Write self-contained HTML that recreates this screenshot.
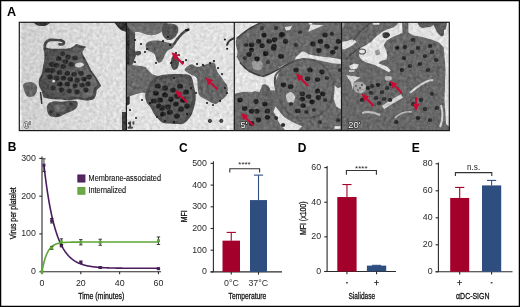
<!DOCTYPE html>
<html><head><meta charset="utf-8"><style>
html,body{margin:0;padding:0;background:#fff;width:520px;height:307px;overflow:hidden}
svg{display:block;will-change:transform;font-family:"Liberation Sans",sans-serif}
</style></head><body>
<svg width="520" height="307" viewBox="0 0 520 307">
<rect width="520" height="307" fill="#fff"/>
<defs>
<filter id="bl" x="0" y="0" width="100%" height="100%" color-interpolation-filters="sRGB"><feGaussianBlur in="SourceGraphic" stdDeviation="0.6" result="b"/><feTurbulence type="fractalNoise" baseFrequency="0.3" numOctaves="3" seed="5" result="t"/><feColorMatrix in="t" type="matrix" values="0.33 0.33 0.33 0 0  0.33 0.33 0.33 0 0  0.33 0.33 0.33 0 0  0 0 0 0 1" result="g"/><feComposite in="b" in2="g" operator="arithmetic" k1="0" k2="1" k3="0.42" k4="-0.21"/></filter>
<filter id="nz" x="0" y="0" width="100%" height="100%"><feTurbulence type="fractalNoise" baseFrequency="0.55" numOctaves="2" seed="7"/><feColorMatrix type="matrix" values="0 0 0 0 0  0 0 0 0 0  0 0 0 0 0  0 0 0 -1.6 1.05"/><feComposite in2="SourceGraphic" operator="in"/></filter>
<clipPath id="cp0"><rect x="19" y="22" width="107" height="109"/></clipPath>
<clipPath id="cp1"><rect x="126" y="22" width="108" height="109"/></clipPath>
<clipPath id="cp2"><rect x="234" y="22" width="107" height="109"/></clipPath>
<clipPath id="cp3"><rect x="341" y="22" width="109" height="109"/></clipPath>
<linearGradient id="g1bg" x1="0" y1="0" x2="1" y2="0"><stop offset="0" stop-color="#cfcfcf"/><stop offset="0.5" stop-color="#d8d8d8"/><stop offset="1" stop-color="#dedede"/></linearGradient>
<linearGradient id="g1cell" x1="0" y1="0" x2="1" y2="0"><stop offset="0" stop-color="#4e4e4e"/><stop offset="0.6" stop-color="#5e5e5e"/><stop offset="1" stop-color="#6e6e6e"/></linearGradient>
</defs>
<g clip-path="url(#cp0)"><g filter="url(#bl)">
<rect x="19" y="22" width="107" height="109" fill="url(#g1bg)"/>
<rect x="19" y="22" width="2.5" height="109" fill="#ececec"/>
<path d="M33.0,20.0 C35.5,19.2 48.5,19.2 51.0,20.0 C53.5,20.8 49.5,23.5 48.0,24.5 C46.5,25.5 44.0,26.0 42.0,26.0 C40.0,26.0 37.5,25.5 36.0,24.5 C34.5,23.5 30.5,20.8 33.0,20.0 Z" fill="#3a3a3a"/>
<path d="M114.0,20.0 C115.8,19.0 125.7,18.2 128.0,20.0 C130.3,21.8 129.0,29.2 128.0,31.0 C127.0,32.8 123.8,31.3 122.0,30.5 C120.2,29.7 118.3,27.8 117.0,26.0 C115.7,24.2 112.2,21.0 114.0,20.0 Z" fill="#333"/>
<polygon points="122.0,112.0 128.0,112.0 128.0,131.0 122.0,131.0" fill="#3e3e3e"/>
<path d="M44.3,47.5 C45.2,46.7 47.2,48.2 50.0,48.4 C52.8,48.6 58.1,48.8 61.3,48.8 C64.5,48.8 66.9,48.7 69.1,48.2 C71.3,47.7 73.1,46.6 74.3,45.9 C75.5,45.2 75.3,44.2 76.4,44.1 C77.5,44.0 79.2,45.0 80.8,45.4 C82.4,45.8 85.6,46.1 86.0,46.7 C86.4,47.4 84.0,48.2 83.4,49.3 C82.8,50.4 82.1,51.5 82.5,53.2 C82.9,55.0 85.0,57.8 86.0,59.8 C87.0,61.8 87.7,63.3 88.6,65.0 C89.5,66.7 90.1,68.5 91.2,70.2 C92.3,71.9 93.8,73.5 95.1,75.4 C96.4,77.4 98.0,80.1 99.0,81.9 C100.0,83.7 101.1,84.7 100.8,86.0 C100.5,87.3 97.8,88.2 97.0,89.7 C96.2,91.2 96.7,93.3 96.0,94.9 C95.3,96.5 94.7,98.6 93.0,99.5 C91.3,100.4 88.7,100.5 86.0,100.5 C83.3,100.5 79.7,99.3 76.9,99.3 C74.1,99.3 71.7,100.4 69.1,100.4 C66.5,100.5 63.9,99.8 61.3,99.6 C58.7,99.4 56.1,99.6 53.5,99.3 C50.9,99.0 47.4,98.5 45.6,98.0 C43.9,97.5 43.6,97.4 43.0,96.2 C42.4,95.0 42.4,92.7 41.7,91.0 C41.1,89.3 39.5,87.8 39.1,85.8 C38.7,83.8 38.7,81.2 39.1,79.3 C39.5,77.3 41.1,76.3 41.7,74.1 C42.4,71.9 42.6,68.7 43.0,66.3 C43.4,63.9 44.1,62.0 44.3,59.8 C44.5,57.6 44.3,55.2 44.3,53.2 C44.3,51.2 43.3,48.3 44.3,47.5 Z" fill="#4a4a4a"/>
<path d="M46.8,50.0 C47.6,49.3 49.4,50.6 51.9,50.8 C54.5,51.0 59.2,51.2 62.1,51.2 C65.0,51.2 67.2,51.1 69.1,50.7 C71.1,50.2 72.7,49.2 73.8,48.6 C74.9,48.0 74.7,47.0 75.7,47.0 C76.7,46.9 78.2,47.8 79.6,48.1 C81.1,48.5 83.9,48.7 84.3,49.3 C84.7,49.9 82.5,50.7 82.0,51.7 C81.5,52.6 80.8,53.6 81.2,55.2 C81.6,56.7 83.4,59.3 84.3,61.1 C85.2,62.9 85.9,64.2 86.7,65.8 C87.4,67.3 88.0,68.9 89.0,70.5 C90.0,72.0 91.3,73.4 92.5,75.1 C93.7,76.9 95.2,79.4 96.0,81.0 C96.9,82.6 97.9,83.5 97.6,84.7 C97.3,85.9 94.9,86.7 94.2,88.0 C93.5,89.3 93.9,91.2 93.3,92.7 C92.7,94.2 92.1,96.0 90.6,96.8 C89.1,97.7 86.7,97.8 84.3,97.7 C81.9,97.7 78.7,96.7 76.1,96.7 C73.6,96.6 71.4,97.6 69.1,97.6 C66.8,97.7 64.4,97.1 62.1,96.9 C59.7,96.8 57.4,96.9 55.1,96.7 C52.7,96.4 49.5,95.9 48.0,95.5 C46.4,95.0 46.2,94.9 45.6,93.9 C45.0,92.8 45.0,90.7 44.4,89.2 C43.9,87.6 42.5,86.3 42.1,84.5 C41.7,82.7 41.7,80.4 42.1,78.7 C42.5,76.9 43.9,75.9 44.4,74.0 C45.0,72.0 45.2,69.1 45.6,67.0 C46.0,64.8 46.6,63.1 46.8,61.1 C47.0,59.1 46.8,57.0 46.8,55.2 C46.8,53.3 45.9,50.8 46.8,50.0 Z" fill="url(#g1cell)"/>
<path d="M44.8,49 C44.2,43.5 46,40.8 50,39.9 L57,40 C61,40.3 64.2,41 63.9,42.9 C63.6,44.1 61.8,44.7 59.5,44.3" fill="none" stroke="#454545" stroke-width="2.7" stroke-linecap="round"/>
<path d="M75.5,63.8 C76.4,63.2 79.6,62.4 81.0,62.6 C82.4,62.8 84.3,64.2 84.0,65.0 C83.7,65.8 80.4,67.3 79.0,67.5 C77.6,67.7 76.1,66.9 75.5,66.3 C74.9,65.7 74.6,64.4 75.5,63.8 Z" fill="#cfcfcf"/>
<circle cx="53.7" cy="81.2" r="1.4" fill="#d8d8d8"/>
<g filter="url(#bl3)"><ellipse cx="62.5" cy="53.8" rx="2.7" ry="2.4" fill="#2c2c2c"/><ellipse cx="58.6" cy="58.7" rx="2.7" ry="2.4" fill="#2c2c2c"/><ellipse cx="65.4" cy="61.6" rx="2.7" ry="2.4" fill="#2c2c2c"/><ellipse cx="56.6" cy="65.5" rx="2.7" ry="2.4" fill="#2c2c2c"/><ellipse cx="63.5" cy="66.5" rx="2.7" ry="2.4" fill="#2c2c2c"/><ellipse cx="71.3" cy="64.5" rx="2.7" ry="2.4" fill="#2c2c2c"/><ellipse cx="52.7" cy="70.4" rx="2.7" ry="2.4" fill="#2c2c2c"/><ellipse cx="59.5" cy="72.4" rx="2.7" ry="2.4" fill="#2c2c2c"/><ellipse cx="67.4" cy="73.3" rx="2.7" ry="2.4" fill="#2c2c2c"/><ellipse cx="74.2" cy="74.3" rx="2.7" ry="2.4" fill="#2c2c2c"/><ellipse cx="81.0" cy="73.3" rx="2.7" ry="2.4" fill="#2c2c2c"/><ellipse cx="56.6" cy="78.2" rx="2.7" ry="2.4" fill="#2c2c2c"/><ellipse cx="63.5" cy="78.2" rx="2.7" ry="2.4" fill="#2c2c2c"/><ellipse cx="70.3" cy="79.2" rx="2.7" ry="2.4" fill="#2c2c2c"/><ellipse cx="77.1" cy="80.2" rx="2.7" ry="2.4" fill="#2c2c2c"/><ellipse cx="84.0" cy="79.2" rx="2.7" ry="2.4" fill="#2c2c2c"/><ellipse cx="59.5" cy="84.1" rx="2.7" ry="2.4" fill="#2c2c2c"/><ellipse cx="67.4" cy="84.1" rx="2.7" ry="2.4" fill="#2c2c2c"/><ellipse cx="75.2" cy="86.0" rx="2.7" ry="2.4" fill="#2c2c2c"/><ellipse cx="82.0" cy="85.1" rx="2.7" ry="2.4" fill="#2c2c2c"/><ellipse cx="69.3" cy="90.9" rx="2.7" ry="2.4" fill="#2c2c2c"/><ellipse cx="77.1" cy="91.9" rx="2.7" ry="2.4" fill="#2c2c2c"/><ellipse cx="61.5" cy="90.0" rx="2.7" ry="2.4" fill="#2c2c2c"/><ellipse cx="51.7" cy="64.5" rx="2.7" ry="2.4" fill="#2c2c2c"/><ellipse cx="47.8" cy="70.4" rx="2.7" ry="2.4" fill="#2c2c2c"/><ellipse cx="88.0" cy="84.0" rx="2.7" ry="2.4" fill="#2c2c2c"/><ellipse cx="86.0" cy="90.0" rx="2.7" ry="2.4" fill="#2c2c2c"/><ellipse cx="68.0" cy="57.0" rx="2.7" ry="2.4" fill="#2c2c2c"/><ellipse cx="75.0" cy="58.0" rx="2.7" ry="2.4" fill="#2c2c2c"/><ellipse cx="50.0" cy="77.0" rx="2.7" ry="2.4" fill="#2c2c2c"/><ellipse cx="53.0" cy="88.0" rx="2.7" ry="2.4" fill="#2c2c2c"/><ellipse cx="89.0" cy="77.0" rx="2.7" ry="2.4" fill="#2c2c2c"/></g>
<path d="M23.5,84.0 C24.5,82.7 27.9,81.9 30.0,82.0 C32.1,82.1 34.8,83.0 36.0,84.5 C37.2,86.0 37.5,89.0 37.0,91.0 C36.5,93.0 34.7,95.7 33.0,96.5 C31.3,97.3 28.5,97.1 27.0,96.0 C25.5,94.9 24.6,92.0 24.0,90.0 C23.4,88.0 22.5,85.3 23.5,84.0 Z" fill="#646464"/>
<path d="M40.5,92 L41.8,104" stroke="#3a3a3a" stroke-width="1.5"/>
<path d="M48.0,104.0 C49.2,102.5 51.7,101.7 54.0,101.3 C56.3,100.9 59.3,101.9 62.0,101.8 C64.7,101.7 67.5,100.8 70.0,100.8 C72.5,100.8 75.8,100.6 77.0,101.5 C78.2,102.4 78.0,104.6 77.5,106.0 C77.0,107.4 75.9,108.8 74.0,110.0 C72.1,111.2 68.7,112.3 66.0,113.5 C63.3,114.7 60.7,116.6 58.0,117.0 C55.3,117.4 51.8,117.2 50.0,116.0 C48.2,114.8 47.3,112.0 47.0,110.0 C46.7,108.0 46.8,105.5 48.0,104.0 Z" fill="#505050"/>
<path d="M54.0,106.0 C54.7,104.8 58.0,104.5 60.0,104.5 C62.0,104.5 65.5,104.9 66.0,106.0 C66.5,107.1 64.7,110.0 63.0,111.0 C61.3,112.0 57.5,112.8 56.0,112.0 C54.5,111.2 53.3,107.2 54.0,106.0 Z" fill="#6a6a6a"/>
<ellipse cx="51.0" cy="112.0" rx="1.8" ry="1.6" fill="#333"/><ellipse cx="71.0" cy="104.0" rx="1.8" ry="1.6" fill="#333"/><ellipse cx="58.0" cy="115.0" rx="1.8" ry="1.6" fill="#333"/>
</g>
<text x="23.7" y="127.6" font-size="9.4" fill="#fff" stroke="#111" stroke-width="0.9" paint-order="stroke" font-family="Liberation Sans">0'</text>
</g>
<g clip-path="url(#cp1)"><g filter="url(#bl)">
<rect x="126" y="22" width="108" height="109" fill="#e1e1e1"/>
<polygon points="126.0,22.0 134.0,22.0 135.0,35.0 135.0,50.0 134.0,62.0 129.6,70.0 129.5,104.0 126.0,106.0" fill="#565656"/>
<polygon points="126.0,22.0 129.5,22.0 129.5,104.0 126.0,106.0" fill="#333"/>
<path d="M129.0,20.0 C123.4,21.8 129.5,28.8 131.3,30.9 C133.1,32.9 137.2,31.6 140.0,32.3 C142.8,33.0 145.4,34.6 148.1,35.0 C150.8,35.4 154.1,34.9 156.3,34.4 C158.5,33.9 159.8,33.0 161.2,32.0 C162.5,31.0 163.7,30.5 164.4,28.5 C165.1,26.5 171.1,21.4 165.2,20.0 C159.3,18.6 134.7,18.2 129.0,20.0 Z" fill="#6e6e6e"/>
<path d="M162.8,25.3 C164.0,23.9 167.0,23.6 169.3,23.6 C171.6,23.6 175.1,24.2 176.6,25.3 C178.1,26.4 178.3,28.5 178.3,30.1 C178.3,31.7 177.6,33.5 176.6,35.0 C175.6,36.5 174.1,38.3 172.6,39.1 C171.1,39.9 169.2,40.3 167.7,39.9 C166.2,39.5 164.5,38.1 163.6,36.7 C162.7,35.4 162.1,33.7 162.0,31.8 C161.9,29.9 161.6,26.7 162.8,25.3 Z" fill="#555"/>
<path d="M188.5,29.5 C184,31 179,36 174,44" stroke="#4a4a4a" stroke-width="2.4" fill="none" stroke-linecap="round"/>
<path d="M146.5,43.2 C147.4,42.2 149.2,41.1 151.4,40.7 C153.6,40.3 156.9,40.4 159.5,40.7 C162.1,41.0 164.8,42.0 166.9,42.4 C169.0,42.8 170.6,42.8 171.8,43.2 C173.0,43.6 174.1,44.0 174.2,44.8 C174.3,45.6 173.7,47.1 172.6,48.1 C171.5,49.1 168.9,49.4 167.7,50.5 C166.5,51.6 166.1,52.8 165.2,54.6 C164.2,56.4 163.1,59.8 162.0,61.1 C160.9,62.5 159.6,63.0 158.7,62.7 C157.8,62.4 157.0,60.9 156.3,59.5 C155.6,58.1 155.5,55.8 154.7,54.6 C153.9,53.4 152.6,52.9 151.4,52.1 C150.2,51.3 148.2,50.7 147.3,49.7 C146.4,48.8 145.8,47.5 145.7,46.4 C145.6,45.3 145.6,44.2 146.5,43.2 Z" fill="#646464"/>
<path d="M172.0,57.0 C172.8,55.4 174.8,55.0 176.0,55.5 C177.2,56.0 178.7,58.1 179.0,60.0 C179.3,61.9 178.8,65.3 178.0,67.0 C177.2,68.7 175.2,70.3 174.0,70.0 C172.8,69.7 171.3,67.2 171.0,65.0 C170.7,62.8 171.2,58.6 172.0,57.0 Z" fill="#4e4e4e"/>
<path d="M129.3,51.0 C130.0,49.4 132.9,49.0 134.0,49.5 C135.1,50.0 136.0,52.3 136.0,54.0 C136.0,55.7 135.0,59.0 134.0,59.8 C133.0,60.6 130.8,60.5 130.0,59.0 C129.2,57.5 128.6,52.6 129.3,51.0 Z" fill="#4a4a4a"/>
<path d="M135.5,52.0 C136.0,51.2 139.1,50.7 140.0,51.0 C140.9,51.3 141.5,53.2 141.0,54.0 C140.5,54.8 137.9,55.8 137.0,55.5 C136.1,55.2 135.0,52.8 135.5,52.0 Z" fill="#4a4a4a"/>
<polygon points="126.0,64.0 135.8,65.4 142.3,66.3 145.5,67.0 148.8,71.1 152.8,74.4 158.5,76.0 160.0,80.0 150.0,88.0 145.5,93.2 142.5,92.5 136.5,94.0 132.0,95.5 127.5,97.0 126.0,97.0" fill="#6a6a6a"/>
<path d="M145.5,93.2 C145.1,95.3 145.2,96.9 145.5,98.5 C145.8,100.1 146.1,101.5 147.0,103.0 C147.9,104.5 149.6,105.8 150.7,107.5 C151.8,109.2 152.6,111.7 153.7,113.4 C154.8,115.2 156.0,116.5 157.4,118.0 C158.8,119.5 160.2,121.5 162.0,122.4 C163.8,123.3 165.7,123.2 168.0,123.5 C170.3,123.8 173.4,124.0 176.0,124.0 C178.6,124.0 181.1,124.8 183.5,123.5 C185.9,122.2 188.8,119.1 190.6,116.5 C192.3,113.9 193.1,110.9 194.0,107.7 C194.9,104.5 195.8,100.6 195.8,97.1 C195.8,93.6 194.9,90.1 194.0,86.6 C193.1,83.1 192.9,78.1 190.6,76.0 C188.3,73.9 184.1,74.3 180.0,74.0 C175.9,73.7 169.6,74.1 166.0,74.4 C162.4,74.7 160.7,75.1 158.5,76.0 C156.3,76.9 154.6,78.3 152.8,80.0 C151.1,81.7 149.2,83.8 148.0,86.0 C146.8,88.2 145.9,91.1 145.5,93.2 Z" fill="#4f4f4f"/>
<path d="M148.6,94.2 C148.3,96.0 148.4,97.3 148.6,98.7 C148.9,100.1 149.2,101.3 149.9,102.6 C150.7,103.9 152.2,105.0 153.1,106.5 C154.1,107.9 154.7,110.0 155.7,111.5 C156.7,113.0 157.7,114.2 158.9,115.5 C160.1,116.8 161.3,118.5 162.8,119.3 C164.4,120.1 166.0,120.0 168.0,120.2 C170.0,120.4 172.7,120.6 174.9,120.6 C177.1,120.6 179.2,121.3 181.3,120.2 C183.4,119.1 185.9,116.5 187.4,114.2 C188.9,111.9 189.6,109.4 190.4,106.6 C191.1,103.9 191.9,100.5 191.9,97.5 C191.9,94.5 191.1,91.5 190.4,88.5 C189.6,85.5 189.4,81.2 187.4,79.4 C185.4,77.6 181.8,77.9 178.3,77.6 C174.8,77.4 169.4,77.7 166.3,78.0 C163.2,78.3 161.7,78.6 159.8,79.4 C157.9,80.2 156.4,81.4 154.9,82.8 C153.4,84.2 151.8,86.1 150.8,88.0 C149.8,89.9 149.0,92.4 148.6,94.2 Z" fill="#5c5c5c"/>
<ellipse cx="160.0" cy="100.0" rx="2.9" ry="2.6" fill="#222"/><ellipse cx="165.0" cy="95.0" rx="2.9" ry="2.6" fill="#222"/><ellipse cx="171.0" cy="99.0" rx="2.9" ry="2.6" fill="#222"/><ellipse cx="176.0" cy="104.0" rx="2.9" ry="2.6" fill="#222"/><ellipse cx="168.0" cy="107.0" rx="2.9" ry="2.6" fill="#222"/><ellipse cx="162.0" cy="108.0" rx="2.9" ry="2.6" fill="#222"/><ellipse cx="177.0" cy="96.0" rx="2.9" ry="2.6" fill="#222"/><ellipse cx="183.0" cy="100.0" rx="2.9" ry="2.6" fill="#222"/><ellipse cx="156.0" cy="93.0" rx="2.9" ry="2.6" fill="#222"/><ellipse cx="170.0" cy="112.0" rx="2.9" ry="2.6" fill="#222"/><ellipse cx="181.0" cy="109.0" rx="2.9" ry="2.6" fill="#222"/><ellipse cx="165.0" cy="88.0" rx="2.9" ry="2.6" fill="#222"/><ellipse cx="173.0" cy="90.0" rx="2.9" ry="2.6" fill="#222"/><ellipse cx="159.0" cy="106.0" rx="2.9" ry="2.6" fill="#222"/><ellipse cx="186.0" cy="92.0" rx="2.9" ry="2.6" fill="#222"/><ellipse cx="154.0" cy="101.0" rx="2.9" ry="2.6" fill="#222"/><ellipse cx="163.0" cy="114.0" rx="2.9" ry="2.6" fill="#222"/><ellipse cx="177.0" cy="116.0" rx="2.9" ry="2.6" fill="#222"/><ellipse cx="187.0" cy="106.0" rx="2.9" ry="2.6" fill="#222"/><ellipse cx="180.0" cy="86.0" rx="2.9" ry="2.6" fill="#222"/><ellipse cx="158.0" cy="86.0" rx="2.9" ry="2.6" fill="#222"/>
<path d="M184.6,70.0 C184.2,68.7 186.6,67.0 187.9,66.0 C189.2,65.0 190.7,64.0 192.3,64.2 C193.9,64.4 195.2,66.9 197.6,66.9 C199.9,66.9 203.9,64.9 206.4,64.2 C208.9,63.5 211.0,62.5 212.5,62.5 C214.0,62.5 214.4,62.7 215.2,64.2 C215.9,65.7 216.1,69.3 217.0,71.3 C217.9,73.3 219.3,74.3 220.5,76.0 C221.7,77.7 222.8,79.5 224.0,81.3 C225.2,83.1 227.1,84.3 227.5,86.6 C227.9,88.9 227.8,93.0 226.6,95.3 C225.4,97.6 222.4,99.1 220.5,100.6 C218.6,102.1 217.5,104.2 215.2,104.1 C212.8,103.9 209.1,101.2 206.4,99.7 C203.8,98.2 200.8,97.5 199.3,95.3 C197.8,93.1 198.0,89.5 197.6,86.6 C197.2,83.7 198.0,80.1 196.7,78.0 C195.4,75.9 192.0,75.3 190.0,74.0 C188.0,72.7 184.9,71.3 184.6,70.0 Z" fill="#666"/>
<path d="M235,38 C231,39 228,41.5 227,45" stroke="#3e3e3e" stroke-width="2" fill="none" stroke-linecap="round"/>
<circle cx="135.0" cy="40.0" r="1.0" fill="#111"/><circle cx="141.0" cy="44.0" r="1.0" fill="#111"/><circle cx="147.0" cy="49.0" r="1.0" fill="#111"/><circle cx="163.0" cy="41.0" r="1.0" fill="#111"/><circle cx="170.0" cy="45.0" r="1.0" fill="#111"/><circle cx="171.0" cy="63.0" r="1.0" fill="#111"/><circle cx="174.0" cy="78.0" r="1.0" fill="#111"/><circle cx="183.0" cy="62.0" r="1.0" fill="#111"/><circle cx="186.0" cy="60.0" r="1.0" fill="#111"/><circle cx="197.0" cy="64.0" r="1.0" fill="#111"/><circle cx="214.0" cy="61.0" r="1.0" fill="#111"/><circle cx="218.0" cy="68.0" r="1.0" fill="#111"/><circle cx="222.0" cy="74.0" r="1.0" fill="#111"/><circle cx="207.0" cy="103.0" r="1.0" fill="#111"/><circle cx="213.0" cy="105.0" r="1.0" fill="#111"/><circle cx="220.0" cy="101.0" r="1.0" fill="#111"/><circle cx="196.0" cy="93.0" r="1.0" fill="#111"/><circle cx="191.0" cy="88.0" r="1.0" fill="#111"/><circle cx="150.0" cy="103.0" r="1.0" fill="#111"/><circle cx="157.0" cy="117.0" r="1.0" fill="#111"/><circle cx="165.0" cy="121.0" r="1.0" fill="#111"/><circle cx="174.0" cy="122.0" r="1.0" fill="#111"/><circle cx="187.0" cy="114.0" r="1.0" fill="#111"/><circle cx="186.0" cy="30.0" r="1.0" fill="#111"/><circle cx="188.0" cy="30.0" r="1.0" fill="#111"/><circle cx="224.9" cy="39.6" r="1.0" fill="#111"/><circle cx="227.1" cy="48.7" r="1.0" fill="#111"/><circle cx="135.0" cy="62.0" r="1.0" fill="#111"/><circle cx="142.0" cy="100.0" r="1.0" fill="#111"/><circle cx="130.0" cy="110.0" r="1.0" fill="#111"/><circle cx="136.0" cy="118.0" r="1.0" fill="#111"/><circle cx="145.0" cy="52.0" r="1.0" fill="#111"/><circle cx="156.0" cy="63.0" r="1.0" fill="#111"/><circle cx="176.0" cy="53.0" r="1.0" fill="#111"/><circle cx="179.0" cy="55.0" r="1.0" fill="#111"/><circle cx="168.0" cy="37.0" r="1.0" fill="#111"/><circle cx="203.0" cy="65.0" r="1.0" fill="#111"/><circle cx="210.0" cy="63.0" r="1.0" fill="#111"/><circle cx="225.0" cy="88.0" r="1.0" fill="#111"/><circle cx="227.0" cy="93.0" r="1.0" fill="#111"/>
<circle cx="209.9" cy="120.9" r="1.6" fill="#555" stroke="#222" stroke-width="0.8"/><circle cx="221.3" cy="120.9" r="1.6" fill="#555" stroke="#222" stroke-width="0.8"/><rect x="226.5" y="126" width="6.5" height="2.6" fill="#f4f4f4"/>
</g>
<line x1="183.3" y1="64.3" x2="176.6" y2="57.4" stroke="#c80a35" stroke-width="2.1"/><polygon points="171.5,52.2 179.0,55.1 174.2,59.8" fill="#c80a35"/>
<line x1="217.6" y1="89.6" x2="210.7" y2="82.7" stroke="#c80a35" stroke-width="2.1"/><polygon points="205.5,77.6 213.1,80.3 208.3,85.2" fill="#c80a35"/>
<line x1="187" y1="102.3" x2="180.3" y2="95.4" stroke="#c80a35" stroke-width="2.1"/><polygon points="175.2,90.2 182.7,93.1 177.9,97.8" fill="#c80a35"/>
<text x="127.4" y="127.8" font-size="9.4" fill="#555" stroke="#111" stroke-width="0.9" paint-order="stroke" font-family="Liberation Sans">1'</text>
</g>
<g clip-path="url(#cp2)"><g filter="url(#bl)">
<rect x="234" y="22" width="107" height="109" fill="#6a6a6a"/>
<path d="M233.0,21.0 C239.0,14.8 264.7,20.6 269.0,21.0 C273.3,21.4 261.5,22.4 258.6,23.5 C255.7,24.6 253.9,25.8 251.6,27.3 C249.3,28.8 246.6,31.1 244.6,32.6 C242.6,34.1 240.6,35.1 239.3,36.1 C238.0,37.1 237.2,37.0 236.6,38.5 C236.0,40.0 235.8,42.8 236.0,45.0 C236.2,47.2 237.5,49.8 237.5,52.0 C237.5,54.2 236.8,57.0 236.0,58.0 C235.2,59.0 233.5,64.2 233.0,58.0 C232.5,51.8 227.0,27.2 233.0,21.0 Z" fill="#e1e1e1"/>
<path d="M252.0,62.0 C252.7,60.5 256.2,59.7 258.0,60.0 C259.8,60.3 262.7,62.3 263.0,64.0 C263.3,65.7 261.5,69.2 260.0,70.0 C258.5,70.8 255.3,70.3 254.0,69.0 C252.7,67.7 251.3,63.5 252.0,62.0 Z" fill="#9a9a9a"/>
<polygon points="234.0,58.0 237.0,57.0 239.9,62.6 244.7,68.5 249.6,72.4 255.5,74.3 263.3,76.3 269.2,74.3 275.0,70.4 280.9,66.5 286.8,63.6 294.0,61.6 296.0,57.0 302.0,51.5 304.0,51.5 309.0,54.6 318.9,56.2 331.9,57.8 342.0,59.5 342.0,64.0 331.9,63.3 322.1,61.1 312.3,58.8 302.6,58.0 294.4,60.0 288.0,63.5 284.8,66.5 279.0,72.4 276.0,80.2 275.4,86.7 272.0,90.0 268.0,87.5 262.0,86.5 259.4,91.9 253.5,90.9 241.8,91.9 234.0,93.9" fill="#e1e1e1"/>
<polygon points="284.7,26.9 292.0,26.0 290.0,30.1 286.0,30.5" fill="#e1e1e1"/>
<polygon points="308.3,31.8 310.7,24.4 323.7,25.3" fill="#e1e1e1"/>
<polygon points="308.5,21.0 313.0,21.0 312.0,24.4 309.0,24.4" fill="#e1e1e1"/>
<polygon points="275.4,106.4 284.3,117.2 293.3,122.6 302.2,126.2 296.9,131.5 286.1,131.5 279.0,122.6 273.6,111.8" fill="#e1e1e1"/>
<polygon points="333.6,85.0 338.0,88.0 342.0,86.7 342.0,110.0 336.3,106.4 333.5,98.0" fill="#e1e1e1"/>
<polygon points="270.0,76.0 275.4,76.0 275.4,90.3 270.0,90.3" fill="#e1e1e1"/>
<path d="M275.4,76.0 C274.7,78.6 274.8,82.8 275.4,86.7 C276.0,90.6 277.5,95.7 279.0,99.3 C280.5,102.9 282.2,105.5 284.3,108.2 C286.4,110.9 288.8,113.8 291.5,115.4 C294.2,117.1 297.1,117.8 300.4,118.1 C303.7,118.4 307.6,118.0 311.2,117.2 C314.8,116.5 319.0,115.4 322.0,113.6 C325.0,111.8 327.3,109.4 329.1,106.4 C330.9,103.4 331.9,99.3 332.7,95.7 C333.4,92.1 333.9,88.3 333.6,85.0 C333.3,81.7 332.2,78.8 330.9,76.0 C329.6,73.2 328.1,70.3 326.0,68.0 C323.9,65.7 321.3,63.4 318.0,62.0 C314.7,60.6 309.9,59.7 306.0,59.5 C302.1,59.3 297.7,60.1 294.4,61.0 C291.1,61.9 288.5,63.3 286.0,65.0 C283.5,66.7 281.3,69.2 279.5,71.0 C277.7,72.8 276.1,73.4 275.4,76.0 Z" fill="none" stroke="#5a5a5a" stroke-width="2"/>
<path d="M239,82 C241,77 247,75 252,78 C258,82 258,88 254,91 C249,93 242,91 239,88" fill="none" stroke="#f2f2f2" stroke-width="0.8"/>
<path d="M262.0,86.0 C262.5,83.9 264.7,84.0 266.0,84.5 C267.3,85.0 268.8,86.6 270.0,89.0 C271.2,91.4 272.7,95.5 273.0,99.0 C273.3,102.5 273.0,108.5 272.0,110.0 C271.0,111.5 268.5,110.2 267.0,108.0 C265.5,105.8 263.8,100.7 263.0,97.0 C262.2,93.3 261.5,88.1 262.0,86.0 Z" fill="#606060"/>
<ellipse cx="251.6" cy="44.9" rx="2.7" ry="2.4" fill="#242424"/><ellipse cx="262.1" cy="45.7" rx="2.7" ry="2.4" fill="#242424"/><ellipse cx="251.6" cy="50.1" rx="2.7" ry="2.4" fill="#242424"/><ellipse cx="249.0" cy="54.5" rx="2.7" ry="2.4" fill="#242424"/><ellipse cx="265.7" cy="53.7" rx="2.7" ry="2.4" fill="#242424"/><ellipse cx="273.6" cy="48.4" rx="2.7" ry="2.4" fill="#242424"/><ellipse cx="274.5" cy="39.6" rx="2.7" ry="2.4" fill="#242424"/><ellipse cx="282.4" cy="34.3" rx="2.7" ry="2.4" fill="#242424"/><ellipse cx="280.6" cy="56.3" rx="2.7" ry="2.4" fill="#242424"/><ellipse cx="263.9" cy="35.2" rx="2.7" ry="2.4" fill="#242424"/><ellipse cx="269.2" cy="41.3" rx="2.7" ry="2.4" fill="#242424"/><ellipse cx="258.6" cy="41.3" rx="2.7" ry="2.4" fill="#242424"/><ellipse cx="257.0" cy="59.0" rx="2.7" ry="2.4" fill="#242424"/><ellipse cx="320.5" cy="41.5" rx="2.7" ry="2.4" fill="#242424"/><ellipse cx="327.0" cy="46.4" rx="2.7" ry="2.4" fill="#242424"/><ellipse cx="332.7" cy="52.1" rx="2.7" ry="2.4" fill="#242424"/><ellipse cx="318.9" cy="50.5" rx="2.7" ry="2.4" fill="#242424"/><ellipse cx="338.4" cy="41.5" rx="2.7" ry="2.4" fill="#242424"/><ellipse cx="281.4" cy="35.0" rx="2.7" ry="2.4" fill="#242424"/><ellipse cx="274.1" cy="46.4" rx="2.7" ry="2.4" fill="#242424"/><ellipse cx="281.4" cy="56.2" rx="2.7" ry="2.4" fill="#242424"/><ellipse cx="285.5" cy="41.5" rx="2.7" ry="2.4" fill="#242424"/><ellipse cx="313.0" cy="44.0" rx="2.7" ry="2.4" fill="#242424"/><ellipse cx="325.0" cy="35.0" rx="2.7" ry="2.4" fill="#242424"/><ellipse cx="283.4" cy="85.0" rx="2.7" ry="2.4" fill="#242424"/><ellipse cx="290.6" cy="86.7" rx="2.7" ry="2.4" fill="#242424"/><ellipse cx="302.2" cy="93.9" rx="2.7" ry="2.4" fill="#242424"/><ellipse cx="308.5" cy="96.6" rx="2.7" ry="2.4" fill="#242424"/><ellipse cx="317.5" cy="91.2" rx="2.7" ry="2.4" fill="#242424"/><ellipse cx="322.8" cy="93.9" rx="2.7" ry="2.4" fill="#242424"/><ellipse cx="318.4" cy="97.5" rx="2.7" ry="2.4" fill="#242424"/><ellipse cx="312.1" cy="102.0" rx="2.7" ry="2.4" fill="#242424"/><ellipse cx="303.1" cy="105.6" rx="2.7" ry="2.4" fill="#242424"/><ellipse cx="297.8" cy="110.9" rx="2.7" ry="2.4" fill="#242424"/><ellipse cx="307.6" cy="78.7" rx="2.7" ry="2.4" fill="#242424"/><ellipse cx="317.5" cy="79.6" rx="2.7" ry="2.4" fill="#242424"/><ellipse cx="302.2" cy="99.3" rx="2.7" ry="2.4" fill="#242424"/><ellipse cx="296.0" cy="70.0" rx="2.7" ry="2.4" fill="#242424"/><ellipse cx="310.0" cy="70.0" rx="2.7" ry="2.4" fill="#242424"/><ellipse cx="322.0" cy="72.0" rx="2.7" ry="2.4" fill="#242424"/><ellipse cx="256.0" cy="101.5" rx="2.7" ry="2.4" fill="#242424"/><ellipse cx="264.8" cy="104.1" rx="2.7" ry="2.4" fill="#242424"/><ellipse cx="267.4" cy="111.2" rx="2.7" ry="2.4" fill="#242424"/><ellipse cx="256.9" cy="111.2" rx="2.7" ry="2.4" fill="#242424"/><ellipse cx="251.6" cy="111.2" rx="2.7" ry="2.4" fill="#242424"/><ellipse cx="244.6" cy="108.5" rx="2.7" ry="2.4" fill="#242424"/><ellipse cx="267.4" cy="117.3" rx="2.7" ry="2.4" fill="#242424"/><ellipse cx="258.6" cy="120.0" rx="2.7" ry="2.4" fill="#242424"/><ellipse cx="251.6" cy="123.5" rx="2.7" ry="2.4" fill="#242424"/><ellipse cx="240.0" cy="100.0" rx="2.7" ry="2.4" fill="#242424"/>
<path d="M286.0,95.0 C286.5,93.3 289.5,91.7 291.0,92.0 C292.5,92.3 294.7,95.2 295.0,97.0 C295.3,98.8 294.2,102.2 293.0,103.0 C291.8,103.8 289.2,103.3 288.0,102.0 C286.8,100.7 285.5,96.7 286.0,95.0 Z" fill="#c8c8c8"/>
<ellipse cx="327.0" cy="78.0" rx="2.2" ry="2.0" fill="#333"/><ellipse cx="325.0" cy="100.0" rx="2.2" ry="2.0" fill="#333"/><ellipse cx="314.0" cy="110.0" rx="2.2" ry="2.0" fill="#333"/><ellipse cx="291.0" cy="104.0" rx="2.2" ry="2.0" fill="#333"/><ellipse cx="306.0" cy="112.0" rx="2.2" ry="2.0" fill="#333"/><ellipse cx="332.0" cy="34.0" rx="2.2" ry="2.0" fill="#333"/><ellipse cx="336.0" cy="48.0" rx="2.2" ry="2.0" fill="#333"/><ellipse cx="300.0" cy="32.0" rx="2.2" ry="2.0" fill="#333"/><ellipse cx="296.0" cy="45.0" rx="2.2" ry="2.0" fill="#333"/><ellipse cx="262.0" cy="28.0" rx="2.2" ry="2.0" fill="#333"/><ellipse cx="246.0" cy="45.0" rx="2.2" ry="2.0" fill="#333"/><ellipse cx="245.0" cy="58.0" rx="2.2" ry="2.0" fill="#333"/><ellipse cx="268.0" cy="62.0" rx="2.2" ry="2.0" fill="#333"/><ellipse cx="276.0" cy="28.0" rx="2.2" ry="2.0" fill="#333"/><ellipse cx="340.0" cy="70.0" rx="2.2" ry="2.0" fill="#333"/><ellipse cx="338.0" cy="120.0" rx="2.2" ry="2.0" fill="#333"/><ellipse cx="320.0" cy="122.0" rx="2.2" ry="2.0" fill="#333"/><ellipse cx="276.0" cy="118.0" rx="2.2" ry="2.0" fill="#333"/><ellipse cx="283.0" cy="125.0" rx="2.2" ry="2.0" fill="#333"/>
<path d="M236.6,38.5 C245,31 252,26 262,22.5" stroke="#444" stroke-width="1.5" fill="none"/>
<path d="M239.9,62.6 C246,70 254,75 263.3,76.3 C272,74 282,66 294,61.6" stroke="#444" stroke-width="1.5" fill="none"/>
<rect x="334.5" y="126.2" width="6" height="2.6" fill="#eee"/>
</g>
<line x1="308" y1="86" x2="301.0" y2="78.8" stroke="#c80a35" stroke-width="2.1"/><polygon points="295.9,73.6 303.4,76.5 298.6,81.2" fill="#c80a35"/>
<line x1="253" y1="125.3" x2="246.0" y2="118.1" stroke="#c80a35" stroke-width="2.1"/><polygon points="240.9,112.9 248.4,115.8 243.6,120.5" fill="#c80a35"/>
<text x="240.4" y="127.8" font-size="9.4" fill="#fff" stroke="#111" stroke-width="0.9" paint-order="stroke" font-family="Liberation Sans">5'</text>
</g>
<g clip-path="url(#cp3)"><g filter="url(#bl)">
<rect x="341" y="22" width="109" height="109" fill="#686868"/>
<polygon points="381.9,31.9 387.3,29.2 393.5,27.4 397.1,24.7 398.9,21.0 402.0,21.0 402.5,32.8 396.2,35.4 390.8,38.1 386.4,40.8 383.7,45.3 386.4,50.7 387.3,56.0 386.4,59.6 381.9,60.5 378.3,63.2 387.3,66.8 390.8,70.4 389.0,72.2 381.9,68.6 374.7,65.0 371.1,64.1 365.8,62.3 362.2,60.5 359.5,56.9 358.6,52.5 358.6,48.9 365.8,45.3 371.1,41.7 376.5,36.3" fill="#e1e1e1"/>
<polygon points="372.5,21.0 380.0,21.0 379.2,24.7 373.0,24.7" fill="#e1e1e1"/>
<path d="M383.0,33.0 C383.9,32.3 386.8,32.1 388.0,32.5 C389.2,32.9 390.3,34.5 390.0,35.5 C389.7,36.5 387.2,38.1 386.0,38.3 C384.8,38.5 383.3,37.4 382.8,36.5 C382.3,35.6 382.1,33.7 383.0,33.0 Z" fill="#3a3a3a"/>
<ellipse cx="362" cy="51.5" rx="3.5" ry="2.5" fill="none" stroke="#555" stroke-width="1.2"/>
<path d="M375.0,51.0 C375.5,50.2 378.2,49.5 379.0,50.0 C379.8,50.5 380.5,53.2 380.0,54.0 C379.5,54.8 376.8,55.5 376.0,55.0 C375.2,54.5 374.5,51.8 375.0,51.0 Z" fill="#9a9a9a"/>
<polygon points="408.3,21.0 408.3,32.6 413.6,35.6 422.4,37.0 431.2,39.5 438.2,42.0 443.5,47.0 446.0,57.0 447.0,71.0 450.0,71.0 450.0,21.0" fill="#e1e1e1"/>
<path d="M418.9,20.0 C421.3,18.9 431.4,19.1 433.8,20.0 C436.2,20.9 434.3,24.2 433.0,25.5 C431.7,26.8 428.2,27.4 426.0,27.6 C423.8,27.8 420.7,27.8 419.5,26.5 C418.3,25.2 416.5,21.1 418.9,20.0 Z" fill="#5e5e5e"/>
<path d="M433.0,20.0 C434.8,18.5 443.9,18.3 446.0,20.0 C448.1,21.7 446.1,27.3 445.5,30.0 C444.9,32.7 443.8,35.6 442.6,36.3 C441.4,37.0 439.7,35.2 438.5,34.0 C437.3,32.8 436.4,31.3 435.5,29.0 C434.6,26.7 431.2,21.5 433.0,20.0 Z" fill="#5a5a5a"/>
<polygon points="396.0,27.3 399.5,27.3 399.5,34.3 396.0,34.3" fill="#e1e1e1"/>
<polygon points="444.0,30.0 450.5,28.0 450.5,128.0 446.0,124.0 444.5,100.0 445.5,70.0 443.7,45.0" fill="#e1e1e1"/>
<polygon points="341.0,41.9 347.3,40.9 353.6,38.8 356.7,41.9 351.5,46.1 345.2,49.3 341.0,49.3" fill="#e1e1e1"/>
<polygon points="349.0,66.0 354.0,63.5 359.0,64.5 357.0,68.5 351.0,69.5" fill="#e1e1e1"/>
<polygon points="341.0,21.0 345.0,21.0 344.0,27.0 341.0,30.0" fill="#9a9a9a"/>
<path d="M353,40 C360,32 366,26 372,21" stroke="#505050" stroke-width="2" fill="none"/>
<path d="M345,60 C350,55 356,50 360,48" stroke="#505050" stroke-width="1.6" fill="none"/>
<polygon points="346.0,75.0 360.5,77.3 354.0,82.0 352.5,90.0 351.0,82.5" fill="#d0d0d0"/>
<polygon points="348.8,70.0 354.7,70.0 354.0,72.0 349.0,72.0" fill="#c8c8c8"/>
<path d="M383,107.4 C390,103 396,99 402,95.9" stroke="#d2d2d2" stroke-width="4" fill="none"/>
<path d="M410,92.8 C418,86 426,80 433,80" stroke="#cfcfcf" stroke-width="2.2" fill="none"/>
<path d="M441,105 C443,112 443,120 440,127" stroke="#cfcfcf" stroke-width="2" fill="none"/>
<path d="M362,113 C368,111 374,112 380,115" stroke="#bdbdbd" stroke-width="2" fill="none"/>
<path d="M395,118 C400,113 405,111 412,112" stroke="#bdbdbd" stroke-width="1.6" fill="none"/>
<path d="M354.0,83.0 C355.2,82.0 359.0,81.5 361.0,82.0 C363.0,82.5 365.5,84.3 366.0,86.0 C366.5,87.7 365.5,90.8 364.0,92.0 C362.5,93.2 358.7,93.7 357.0,93.0 C355.3,92.3 354.1,89.7 353.6,88.0 C353.1,86.3 352.8,84.0 354.0,83.0 Z" fill="#a8a8a8"/>
<path d="M385.0,76.5 C385.8,75.8 389.9,75.9 391.0,76.5 C392.1,77.1 392.1,79.3 391.3,80.0 C390.5,80.7 387.1,81.1 386.0,80.5 C384.9,79.9 384.2,77.2 385.0,76.5 Z" fill="#b5b5b5"/>
<g filter="url(#bl3)"><ellipse cx="405.0" cy="47.0" rx="2.3" ry="2.1" fill="#2c2c2c"/><ellipse cx="412.0" cy="52.0" rx="2.3" ry="2.1" fill="#2c2c2c"/><ellipse cx="404.0" cy="58.0" rx="2.3" ry="2.1" fill="#2c2c2c"/><ellipse cx="418.0" cy="48.0" rx="2.3" ry="2.1" fill="#2c2c2c"/><ellipse cx="425.0" cy="56.0" rx="2.3" ry="2.1" fill="#2c2c2c"/><ellipse cx="430.0" cy="46.0" rx="2.3" ry="2.1" fill="#2c2c2c"/><ellipse cx="436.0" cy="60.0" rx="2.3" ry="2.1" fill="#2c2c2c"/><ellipse cx="420.0" cy="64.0" rx="2.3" ry="2.1" fill="#2c2c2c"/><ellipse cx="410.0" cy="66.0" rx="2.3" ry="2.1" fill="#2c2c2c"/><ellipse cx="428.0" cy="70.0" rx="2.3" ry="2.1" fill="#2c2c2c"/><ellipse cx="402.0" cy="70.0" rx="2.3" ry="2.1" fill="#2c2c2c"/><ellipse cx="397.0" cy="48.0" rx="2.3" ry="2.1" fill="#2c2c2c"/><ellipse cx="413.0" cy="40.0" rx="2.3" ry="2.1" fill="#2c2c2c"/><ellipse cx="432.0" cy="52.0" rx="2.3" ry="2.1" fill="#2c2c2c"/><ellipse cx="372.0" cy="86.0" rx="2.3" ry="2.1" fill="#2c2c2c"/><ellipse cx="378.0" cy="85.0" rx="2.3" ry="2.1" fill="#2c2c2c"/><ellipse cx="382.0" cy="92.0" rx="2.3" ry="2.1" fill="#2c2c2c"/><ellipse cx="387.0" cy="88.0" rx="2.3" ry="2.1" fill="#2c2c2c"/><ellipse cx="391.0" cy="84.0" rx="2.3" ry="2.1" fill="#2c2c2c"/><ellipse cx="384.0" cy="99.0" rx="2.3" ry="2.1" fill="#2c2c2c"/><ellipse cx="376.0" cy="98.0" rx="2.3" ry="2.1" fill="#2c2c2c"/><ellipse cx="390.0" cy="100.0" rx="2.3" ry="2.1" fill="#2c2c2c"/><ellipse cx="371.0" cy="93.0" rx="2.3" ry="2.1" fill="#2c2c2c"/><ellipse cx="368.0" cy="88.0" rx="2.3" ry="2.1" fill="#2c2c2c"/><ellipse cx="379.0" cy="103.0" rx="2.3" ry="2.1" fill="#2c2c2c"/><ellipse cx="421.0" cy="100.0" rx="2.3" ry="2.1" fill="#2c2c2c"/><ellipse cx="432.0" cy="94.0" rx="2.3" ry="2.1" fill="#2c2c2c"/><ellipse cx="425.0" cy="109.0" rx="2.3" ry="2.1" fill="#2c2c2c"/><ellipse cx="413.0" cy="104.0" rx="2.3" ry="2.1" fill="#2c2c2c"/><ellipse cx="437.0" cy="108.0" rx="2.3" ry="2.1" fill="#2c2c2c"/><ellipse cx="418.0" cy="118.0" rx="2.3" ry="2.1" fill="#2c2c2c"/><ellipse cx="430.0" cy="120.0" rx="2.3" ry="2.1" fill="#2c2c2c"/><ellipse cx="396.0" cy="122.0" rx="2.3" ry="2.1" fill="#2c2c2c"/><ellipse cx="362.0" cy="100.0" rx="2.3" ry="2.1" fill="#2c2c2c"/></g>
<ellipse cx="356.0" cy="86.0" rx="0.9" ry="0.8" fill="#333"/><ellipse cx="360.0" cy="88.0" rx="0.9" ry="0.8" fill="#333"/><ellipse cx="358.0" cy="90.0" rx="0.9" ry="0.8" fill="#333"/><ellipse cx="362.0" cy="85.0" rx="0.9" ry="0.8" fill="#333"/>
</g>
<line x1="401.6" y1="93" x2="395.0" y2="86.1" stroke="#c80a35" stroke-width="2.1"/><polygon points="389.9,80.9 397.4,83.8 392.5,88.5" fill="#c80a35"/>
<line x1="373.6" y1="106" x2="366.6" y2="98.8" stroke="#c80a35" stroke-width="2.1"/><polygon points="361.5,93.6 369.0,96.5 364.2,101.2" fill="#c80a35"/>
<line x1="416.1" y1="97.1" x2="416.1" y2="103.8" stroke="#c80a35" stroke-width="2.1"/><polygon points="416.1,111.1 412.7,103.8 419.5,103.8" fill="#c80a35"/>
<text x="348.3" y="127.6" font-size="9.4" fill="#fff" stroke="#111" stroke-width="0.9" paint-order="stroke" font-family="Liberation Sans">20'</text>
</g>
<g stroke="#1a1a1a" stroke-width="1.2" fill="none"><rect x="19.3" y="22.3" width="430" height="108.3"/><line x1="126.4" y1="22" x2="126.4" y2="131"/><line x1="234.3" y1="22" x2="234.3" y2="131"/><line x1="341.5" y1="22" x2="341.5" y2="131"/></g>
<text x="11.6" y="15.6" font-size="12.6" font-weight="bold" text-anchor="middle" fill="#000">A</text>
<text x="12.0" y="151.2" font-size="12" font-weight="bold" text-anchor="middle" fill="#000">B</text>
<text x="183.3" y="151.8" font-size="12" font-weight="bold" text-anchor="middle" fill="#000">C</text>
<text x="302.2" y="151.7" font-size="12" font-weight="bold" text-anchor="middle" fill="#000">D</text>
<text x="415.8" y="151.7" font-size="12" font-weight="bold" text-anchor="middle" fill="#000">E</text>
<g stroke="#2b2b2b" stroke-width="1.1" fill="none">
<line x1="42.0" y1="156.5015" x2="42.0" y2="271.7"/>
<line x1="39.3" y1="271.7" x2="161" y2="271.7"/>
<line x1="39.3" y1="233.93" x2="42.0" y2="233.93"/>
<line x1="39.3" y1="196.16" x2="42.0" y2="196.16"/>
<line x1="39.3" y1="158.39" x2="42.0" y2="158.39"/>
<line x1="42.00" y1="271.7" x2="42.00" y2="274.2"/>
<line x1="80.82" y1="271.7" x2="80.82" y2="274.2"/>
<line x1="119.64" y1="271.7" x2="119.64" y2="274.2"/>
<line x1="158.46" y1="271.7" x2="158.46" y2="274.2"/>
</g>
<text x="35.9" y="274.09999999999997" font-size="8.8" font-weight="normal" text-anchor="end" fill="#2a2a2a">0</text>
<text x="35.9" y="236.33" font-size="8.8" font-weight="normal" text-anchor="end" fill="#2a2a2a">100</text>
<text x="35.9" y="198.56" font-size="8.8" font-weight="normal" text-anchor="end" fill="#2a2a2a">200</text>
<text x="35.9" y="160.79" font-size="8.8" font-weight="normal" text-anchor="end" fill="#2a2a2a">300</text>
<text x="42.0" y="285.6" font-size="8.8" font-weight="normal" text-anchor="middle" fill="#1e1e1e">0</text>
<text x="80.82" y="285.6" font-size="8.8" font-weight="normal" text-anchor="middle" fill="#1e1e1e">20</text>
<text x="119.64" y="285.6" font-size="8.8" font-weight="normal" text-anchor="middle" fill="#1e1e1e">40</text>
<text x="158.46" y="285.6" font-size="8.8" font-weight="normal" text-anchor="middle" fill="#1e1e1e">60</text>
<text x="101.25" y="298.9" font-size="9.5" font-weight="normal" text-anchor="middle" fill="#111" textLength="46.2" lengthAdjust="spacingAndGlyphs" stroke="#111" stroke-width="0.3">Time (minutes)</text>
<text transform="translate(15.7,213.3) rotate(-90)" x="0" y="0" font-size="9.5" font-weight="normal" text-anchor="middle" fill="#111" textLength="52" lengthAdjust="spacingAndGlyphs" stroke="#111" stroke-width="0.3">Virus per platelet</text>
<path d="M43.94,165.21 L44.43,169.41 L44.91,173.44 L45.40,177.31 L45.88,181.02 L46.37,184.58 L46.85,187.99 L47.34,191.27 L47.82,194.41 L48.31,197.42 L48.79,200.31 L49.28,203.08 L49.76,205.74 L50.25,208.29 L50.73,210.74 L51.22,213.08 L51.70,215.34 L52.19,217.49 L52.68,219.57 L53.16,221.55 L53.65,223.46 L54.13,225.29 L54.62,227.04 L55.10,228.72 L55.59,230.34 L56.07,231.88 L56.56,233.37 L57.04,234.79 L57.53,236.16 L58.01,237.47 L58.50,238.73 L58.98,239.93 L59.47,241.09 L59.95,242.20 L60.44,243.26 L60.92,244.28 L61.41,245.26 L61.90,246.20 L62.38,247.10 L62.87,247.97 L63.35,248.80 L63.84,249.59 L64.32,250.35 L64.81,251.09 L65.29,251.79 L65.78,252.46 L66.26,253.11 L66.75,253.73 L67.23,254.32 L67.72,254.89 L68.20,255.44 L68.69,255.96 L69.17,256.46 L69.66,256.95 L70.14,257.41 L70.63,257.85 L71.12,258.28 L71.60,258.69 L72.09,259.08 L72.57,259.46 L73.06,259.82 L73.54,260.16 L74.03,260.49 L74.51,260.81 L75.00,261.12 L75.48,261.41 L75.97,261.69 L76.45,261.96 L76.94,262.22 L77.42,262.47 L77.91,262.71 L78.39,262.93 L78.88,263.15 L79.36,263.36 L79.85,263.56 L80.33,263.76 L80.82,263.94 L81.31,264.12 L81.79,264.29 L82.28,264.45 L82.76,264.61 L83.25,264.76 L83.73,264.91 L84.22,265.04 L84.70,265.18 L85.19,265.30 L85.67,265.43 L86.16,265.54 L86.64,265.66 L87.13,265.76 L87.61,265.87 L88.10,265.97 L88.58,266.06 L89.07,266.15 L89.55,266.24 L90.04,266.32 L90.53,266.40 L91.01,266.48 L91.50,266.56 L91.98,266.63 L92.47,266.70 L92.95,266.76 L93.44,266.82 L93.92,266.88 L94.41,266.94 L94.89,267.00 L95.38,267.05 L95.86,267.10 L96.35,267.15 L96.83,267.20 L97.32,267.24 L97.80,267.29 L98.29,267.33 L98.77,267.37 L99.26,267.40 L99.74,267.44 L100.23,267.48 L100.72,267.51 L101.20,267.54 L101.69,267.57 L102.17,267.60 L102.66,267.63 L103.14,267.66 L103.63,267.68 L104.11,267.71 L104.60,267.73 L105.08,267.76 L105.57,267.78 L106.05,267.80 L106.54,267.82 L107.02,267.84 L107.51,267.86 L107.99,267.88 L108.48,267.89 L108.96,267.91 L109.45,267.93 L109.94,267.94 L110.42,267.96 L110.91,267.97 L111.39,267.98 L111.88,268.00 L112.36,268.01 L112.85,268.02 L113.33,268.03 L113.82,268.04 L114.30,268.05 L114.79,268.06 L115.27,268.07 L115.76,268.08 L116.24,268.09 L116.73,268.10 L117.21,268.11 L117.70,268.12 L118.18,268.12 L118.67,268.13 L119.15,268.14 L119.64,268.14 L120.13,268.15 L120.61,268.16 L121.10,268.16 L121.58,268.17 L122.07,268.17 L122.55,268.18 L123.04,268.18 L123.52,268.19 L124.01,268.19 L124.49,268.20 L124.98,268.20 L125.46,268.21 L125.95,268.21 L126.43,268.21 L126.92,268.22 L127.40,268.22 L127.89,268.22 L128.37,268.23 L128.86,268.23 L129.34,268.23 L129.83,268.24 L130.32,268.24 L130.80,268.24 L131.29,268.24 L131.77,268.25 L132.26,268.25 L132.74,268.25 L133.23,268.25 L133.71,268.25 L134.20,268.26 L134.68,268.26 L135.17,268.26 L135.65,268.26 L136.14,268.26 L136.62,268.26 L137.11,268.27 L137.59,268.27 L138.08,268.27 L138.56,268.27 L139.05,268.27 L139.54,268.27 L140.02,268.27 L140.51,268.27 L140.99,268.28 L141.48,268.28 L141.96,268.28 L142.45,268.28 L142.93,268.28 L143.42,268.28 L143.90,268.28 L144.39,268.28 L144.87,268.28 L145.36,268.28 L145.84,268.28 L146.33,268.28 L146.81,268.29 L147.30,268.29 L147.78,268.29 L148.27,268.29 L148.75,268.29 L149.24,268.29 L149.73,268.29 L150.21,268.29 L150.70,268.29 L151.18,268.29 L151.67,268.29 L152.15,268.29 L152.64,268.29 L153.12,268.29 L153.61,268.29 L154.09,268.29 L154.58,268.29 L155.06,268.29 L155.55,268.29 L156.03,268.29 L156.52,268.29 L157.00,268.29 L157.49,268.29 L157.97,268.29 L158.46,268.30" stroke="#4a1d5e" stroke-width="1.6" fill="none"/>
<path d="M42.00,271.70 L42.49,269.08 L42.97,266.69 L43.46,264.52 L43.94,262.53 L44.43,260.72 L44.91,259.07 L45.40,257.57 L45.88,256.20 L46.37,254.95 L46.85,253.81 L47.34,252.77 L47.82,251.82 L48.31,250.96 L48.79,250.17 L49.28,249.45 L49.76,248.80 L50.25,248.20 L50.73,247.66 L51.22,247.16 L51.70,246.71 L52.19,246.30 L52.68,245.93 L53.16,245.58 L53.65,245.27 L54.13,244.99 L54.62,244.73 L55.10,244.49 L55.59,244.27 L56.07,244.08 L56.56,243.90 L57.04,243.74 L57.53,243.59 L58.01,243.45 L58.50,243.33 L58.98,243.21 L59.47,243.11 L59.95,243.02 L60.44,242.93 L60.92,242.85 L61.41,242.78 L61.90,242.72 L62.38,242.66 L62.87,242.61 L63.35,242.56 L63.84,242.51 L64.32,242.47 L64.81,242.43 L65.29,242.40 L65.78,242.37 L66.26,242.34 L66.75,242.32 L67.23,242.29 L67.72,242.27 L68.20,242.25 L68.69,242.23 L69.17,242.22 L69.66,242.20 L70.14,242.19 L70.63,242.18 L71.12,242.17 L71.60,242.16 L72.09,242.15 L72.57,242.14 L73.06,242.13 L73.54,242.12 L74.03,242.12 L74.51,242.11 L75.00,242.11 L75.48,242.10 L75.97,242.10 L76.45,242.09 L76.94,242.09 L77.42,242.09 L77.91,242.08 L78.39,242.08 L78.88,242.08 L79.36,242.07 L79.85,242.07 L80.33,242.07 L80.82,242.07 L81.31,242.07 L81.79,242.07 L82.28,242.06 L82.76,242.06 L83.25,242.06 L83.73,242.06 L84.22,242.06 L84.70,242.06 L85.19,242.06 L85.67,242.06 L86.16,242.06 L86.64,242.06 L87.13,242.06 L87.61,242.06 L88.10,242.06 L88.58,242.05 L89.07,242.05 L89.55,242.05 L90.04,242.05 L90.53,242.05 L91.01,242.05 L91.50,242.05 L91.98,242.05 L92.47,242.05 L92.95,242.05 L93.44,242.05 L93.92,242.05 L94.41,242.05 L94.89,242.05 L95.38,242.05 L95.86,242.05 L96.35,242.05 L96.83,242.05 L97.32,242.05 L97.80,242.05 L98.29,242.05 L98.77,242.05 L99.26,242.05 L99.74,242.05 L100.23,242.05 L100.72,242.05 L101.20,242.05 L101.69,242.05 L102.17,242.05 L102.66,242.05 L103.14,242.05 L103.63,242.05 L104.11,242.05 L104.60,242.05 L105.08,242.05 L105.57,242.05 L106.05,242.05 L106.54,242.05 L107.02,242.05 L107.51,242.05 L107.99,242.05 L108.48,242.05 L108.96,242.05 L109.45,242.05 L109.94,242.05 L110.42,242.05 L110.91,242.05 L111.39,242.05 L111.88,242.05 L112.36,242.05 L112.85,242.05 L113.33,242.05 L113.82,242.05 L114.30,242.05 L114.79,242.05 L115.27,242.05 L115.76,242.05 L116.24,242.05 L116.73,242.05 L117.21,242.05 L117.70,242.05 L118.18,242.05 L118.67,242.05 L119.15,242.05 L119.64,242.05 L120.13,242.05 L120.61,242.05 L121.10,242.05 L121.58,242.05 L122.07,242.05 L122.55,242.05 L123.04,242.05 L123.52,242.05 L124.01,242.05 L124.49,242.05 L124.98,242.05 L125.46,242.05 L125.95,242.05 L126.43,242.05 L126.92,242.05 L127.40,242.05 L127.89,242.05 L128.37,242.05 L128.86,242.05 L129.34,242.05 L129.83,242.05 L130.32,242.05 L130.80,242.05 L131.29,242.05 L131.77,242.05 L132.26,242.05 L132.74,242.05 L133.23,242.05 L133.71,242.05 L134.20,242.05 L134.68,242.05 L135.17,242.05 L135.65,242.05 L136.14,242.05 L136.62,242.05 L137.11,242.05 L137.59,242.05 L138.08,242.05 L138.56,242.05 L139.05,242.05 L139.54,242.05 L140.02,242.05 L140.51,242.05 L140.99,242.05 L141.48,242.05 L141.96,242.05 L142.45,242.05 L142.93,242.05 L143.42,242.05 L143.90,242.05 L144.39,242.05 L144.87,242.05 L145.36,242.05 L145.84,242.05 L146.33,242.05 L146.81,242.05 L147.30,242.05 L147.78,242.05 L148.27,242.05 L148.75,242.05 L149.24,242.05 L149.73,242.05 L150.21,242.05 L150.70,242.05 L151.18,242.05 L151.67,242.05 L152.15,242.05 L152.64,242.05 L153.12,242.05 L153.61,242.05 L154.09,242.05 L154.58,242.05 L155.06,242.05 L155.55,242.05 L156.03,242.05 L156.52,242.05 L157.00,242.05 L157.49,242.05 L157.97,242.05 L158.46,242.05" stroke="#5fa638" stroke-width="1.6" fill="none"/>
<g stroke="#222" stroke-width="0.9"><line x1="43.94" y1="158.77" x2="43.94" y2="171.61"/><line x1="42.24" y1="158.77" x2="45.64" y2="158.77"/><line x1="42.24" y1="171.61" x2="45.64" y2="171.61"/></g>
<rect x="42.44" y="163.69" width="3" height="3" fill="#4a1d5e"/>
<g stroke="#222" stroke-width="0.9"><line x1="51.70" y1="218.44" x2="51.70" y2="222.98"/><line x1="50.00" y1="218.44" x2="53.41" y2="218.44"/><line x1="50.00" y1="222.98" x2="53.41" y2="222.98"/></g>
<rect x="50.20" y="219.21" width="3" height="3" fill="#4a1d5e"/>
<g stroke="#222" stroke-width="0.9"><line x1="61.41" y1="244.51" x2="61.41" y2="246.77"/><line x1="59.71" y1="244.51" x2="63.11" y2="244.51"/><line x1="59.71" y1="246.77" x2="63.11" y2="246.77"/></g>
<rect x="59.91" y="244.14" width="3" height="3" fill="#4a1d5e"/>
<g stroke="#222" stroke-width="0.9"><line x1="80.82" y1="261.12" x2="80.82" y2="263.39"/><line x1="79.12" y1="261.12" x2="82.52" y2="261.12"/><line x1="79.12" y1="263.39" x2="82.52" y2="263.39"/></g>
<rect x="79.32" y="260.76" width="3" height="3" fill="#4a1d5e"/>
<g stroke="#222" stroke-width="0.9"><line x1="100.23" y1="266.79" x2="100.23" y2="268.30"/><line x1="98.53" y1="266.79" x2="101.93" y2="266.79"/><line x1="98.53" y1="268.30" x2="101.93" y2="268.30"/></g>
<rect x="98.73" y="266.05" width="3" height="3" fill="#4a1d5e"/>
<g stroke="#222" stroke-width="0.9"><line x1="158.46" y1="267.92" x2="158.46" y2="269.43"/><line x1="156.76" y1="267.92" x2="160.16" y2="267.92"/><line x1="156.76" y1="269.43" x2="160.16" y2="269.43"/></g>
<rect x="156.96" y="267.18" width="3" height="3" fill="#4a1d5e"/>
<rect x="40.50" y="270.20" width="3" height="3" fill="#5fa638"/>
<g stroke="#222" stroke-width="0.9"><line x1="51.70" y1="246.39" x2="51.70" y2="249.42"/><line x1="50.00" y1="246.39" x2="53.41" y2="246.39"/><line x1="50.00" y1="249.42" x2="53.41" y2="249.42"/></g>
<rect x="50.20" y="246.40" width="3" height="3" fill="#5fa638"/>
<g stroke="#222" stroke-width="0.9"><line x1="61.41" y1="238.84" x2="61.41" y2="244.88"/><line x1="59.71" y1="238.84" x2="63.11" y2="238.84"/><line x1="59.71" y1="244.88" x2="63.11" y2="244.88"/></g>
<rect x="59.91" y="240.36" width="3" height="3" fill="#5fa638"/>
<g stroke="#222" stroke-width="0.9"><line x1="80.82" y1="239.60" x2="80.82" y2="244.88"/><line x1="79.12" y1="239.60" x2="82.52" y2="239.60"/><line x1="79.12" y1="244.88" x2="82.52" y2="244.88"/></g>
<rect x="79.32" y="240.74" width="3" height="3" fill="#5fa638"/>
<g stroke="#222" stroke-width="0.9"><line x1="100.23" y1="239.22" x2="100.23" y2="245.26"/><line x1="98.53" y1="239.22" x2="101.93" y2="239.22"/><line x1="98.53" y1="245.26" x2="101.93" y2="245.26"/></g>
<rect x="98.73" y="240.74" width="3" height="3" fill="#5fa638"/>
<g stroke="#222" stroke-width="0.9"><line x1="158.46" y1="236.95" x2="158.46" y2="244.51"/><line x1="156.76" y1="236.95" x2="160.16" y2="236.95"/><line x1="156.76" y1="244.51" x2="160.16" y2="244.51"/></g>
<rect x="156.96" y="239.23" width="3" height="3" fill="#5fa638"/>
<rect x="77.9" y="175" width="7" height="7" fill="#55295f" stroke="#45185a" stroke-width="1"/>
<rect x="77.9" y="187.5" width="7" height="6.7" fill="#6ca94a" stroke="#5ca236" stroke-width="1"/>
<text x="88.6" y="180.8" font-size="8.3" font-weight="normal" text-anchor="start" fill="#111" textLength="72.4" lengthAdjust="spacingAndGlyphs" stroke="#111" stroke-width="0.12">Membrane-associated</text>
<text x="88.4" y="193.0" font-size="8.3" font-weight="normal" text-anchor="start" fill="#111" textLength="37.7" lengthAdjust="spacingAndGlyphs" stroke="#111" stroke-width="0.12">Internalized</text>
<g stroke="#2b2b2b" stroke-width="1.1" fill="none">
<line x1="213.4" y1="161.3" x2="213.4" y2="271.9"/>
<line x1="210.6" y1="271.9" x2="282" y2="271.9"/>
<line x1="210.6" y1="271.90" x2="213.4" y2="271.90"/>
<line x1="210.6" y1="250.20" x2="213.4" y2="250.20"/>
<line x1="210.6" y1="228.50" x2="213.4" y2="228.50"/>
<line x1="210.6" y1="206.80" x2="213.4" y2="206.80"/>
<line x1="210.6" y1="185.10" x2="213.4" y2="185.10"/>
<line x1="210.6" y1="163.40" x2="213.4" y2="163.40"/>
</g>
<text x="206.9" y="274.29999999999995" font-size="8.8" font-weight="normal" text-anchor="end" fill="#2a2a2a">0</text>
<text x="206.9" y="252.6" font-size="8.8" font-weight="normal" text-anchor="end" fill="#2a2a2a">100</text>
<text x="206.9" y="230.89999999999998" font-size="8.8" font-weight="normal" text-anchor="end" fill="#2a2a2a">200</text>
<text x="206.9" y="209.2" font-size="8.8" font-weight="normal" text-anchor="end" fill="#2a2a2a">300</text>
<text x="206.9" y="187.49999999999997" font-size="8.8" font-weight="normal" text-anchor="end" fill="#2a2a2a">400</text>
<text x="206.9" y="165.79999999999998" font-size="8.8" font-weight="normal" text-anchor="end" fill="#2a2a2a">500</text>
<rect x="222.5" y="240.65" width="17.50" height="31.25" fill="#a4002c"/>
<g stroke="#a4002c" stroke-width="1.1"><line x1="231.25" y1="240.65" x2="231.25" y2="232.41"/><line x1="226.65" y1="232.41" x2="235.85" y2="232.41"/></g>
<line x1="231.25" y1="271.9" x2="231.25" y2="274.59999999999997" stroke="#2b2b2b" stroke-width="1.1"/>
<rect x="250.0" y="200.07" width="17.00" height="71.83" fill="#2f4e80"/>
<g stroke="#2f4e80" stroke-width="1.1"><line x1="258.50" y1="200.07" x2="258.50" y2="175.12"/><line x1="253.90" y1="175.12" x2="263.10" y2="175.12"/></g>
<line x1="258.50" y1="271.9" x2="258.50" y2="274.59999999999997" stroke="#2b2b2b" stroke-width="1.1"/>
<path d="M229.8,172.4 V168.8 H259.6 V172.4" stroke="#333" stroke-width="1.1" fill="none"/>
<text x="244.5" y="166.6" font-size="8" font-weight="normal" text-anchor="middle" fill="#222">****</text>
<text x="231.4" y="285.6" font-size="8.8" font-weight="normal" text-anchor="middle" fill="#333">0°C</text>
<text x="258.3" y="285.6" font-size="8.8" font-weight="normal" text-anchor="middle" fill="#333">37°C</text>
<text x="247.4" y="298.9" font-size="9.5" font-weight="normal" text-anchor="middle" fill="#111" textLength="37.6" lengthAdjust="spacingAndGlyphs" stroke="#111" stroke-width="0.3">Temperature</text>
<text transform="translate(186.8,216.25) rotate(-90)" x="0" y="0" font-size="9.5" font-weight="normal" text-anchor="middle" fill="#111" textLength="11.8" lengthAdjust="spacingAndGlyphs" stroke="#111" stroke-width="0.3">MFI</text>
<g stroke="#2b2b2b" stroke-width="1.1" fill="none">
<line x1="327.1" y1="166.0" x2="327.1" y2="271.5"/>
<line x1="324.3" y1="271.5" x2="396" y2="271.5"/>
<line x1="324.3" y1="271.50" x2="327.1" y2="271.50"/>
<line x1="324.3" y1="236.86" x2="327.1" y2="236.86"/>
<line x1="324.3" y1="202.22" x2="327.1" y2="202.22"/>
<line x1="324.3" y1="167.58" x2="327.1" y2="167.58"/>
</g>
<text x="321.1" y="273.9" font-size="8.8" font-weight="normal" text-anchor="end" fill="#2a2a2a">0</text>
<text x="321.1" y="239.26000000000002" font-size="8.8" font-weight="normal" text-anchor="end" fill="#2a2a2a">20</text>
<text x="321.1" y="204.62" font-size="8.8" font-weight="normal" text-anchor="end" fill="#2a2a2a">40</text>
<text x="321.1" y="169.98" font-size="8.8" font-weight="normal" text-anchor="end" fill="#2a2a2a">60</text>
<rect x="337.3" y="197.02" width="19.30" height="74.48" fill="#a4002c"/>
<g stroke="#a4002c" stroke-width="1.1"><line x1="346.95" y1="197.02" x2="346.95" y2="184.55"/><line x1="342.35" y1="184.55" x2="351.55" y2="184.55"/></g>
<line x1="346.95" y1="271.5" x2="346.95" y2="274.2" stroke="#2b2b2b" stroke-width="1.1"/>
<rect x="366.9" y="265.61" width="19.30" height="5.89" fill="#2f4e80"/>
<g stroke="#2f4e80" stroke-width="1.1"><line x1="376.55" y1="265.61" x2="376.55" y2="265.35"/><line x1="371.95" y1="265.35" x2="381.15" y2="265.35"/></g>
<line x1="376.55" y1="271.5" x2="376.55" y2="274.2" stroke="#2b2b2b" stroke-width="1.1"/>
<path d="M346.4,174.7 V170.5 H376.4 V174.7" stroke="#333" stroke-width="1.1" fill="none"/>
<text x="361.3" y="171.0" font-size="8" font-weight="normal" text-anchor="middle" fill="#222">****</text>
<rect x="346.00" y="282.1" width="1.8" height="1.3" fill="#333"/>
<text x="376.5" y="285.6" font-size="8.8" font-weight="normal" text-anchor="middle" fill="#222" stroke="#222" stroke-width="0.35">+</text>
<text x="361.8" y="298.9" font-size="9.5" font-weight="normal" text-anchor="middle" fill="#111" textLength="26.6" lengthAdjust="spacingAndGlyphs" stroke="#111" stroke-width="0.3">Sialidase</text>
<text transform="translate(305.8,218.25) rotate(-90)" x="0" y="0" font-size="9.5" font-weight="normal" text-anchor="middle" fill="#111" textLength="33.6" lengthAdjust="spacingAndGlyphs" stroke="#111" stroke-width="0.3">MFI (x100)</text>
<g stroke="#2b2b2b" stroke-width="1.1" fill="none">
<line x1="438.4" y1="162.6" x2="438.4" y2="271.8"/>
<line x1="435.59999999999997" y1="271.8" x2="512.5" y2="271.8"/>
<line x1="435.59999999999997" y1="271.80" x2="438.4" y2="271.80"/>
<line x1="435.59999999999997" y1="244.80" x2="438.4" y2="244.80"/>
<line x1="435.59999999999997" y1="217.80" x2="438.4" y2="217.80"/>
<line x1="435.59999999999997" y1="190.80" x2="438.4" y2="190.80"/>
<line x1="435.59999999999997" y1="163.80" x2="438.4" y2="163.80"/>
</g>
<text x="432.6" y="274.2" font-size="8.8" font-weight="normal" text-anchor="end" fill="#2a2a2a">0</text>
<text x="432.6" y="247.20000000000002" font-size="8.8" font-weight="normal" text-anchor="end" fill="#2a2a2a">20</text>
<text x="432.6" y="220.20000000000002" font-size="8.8" font-weight="normal" text-anchor="end" fill="#2a2a2a">40</text>
<text x="432.6" y="193.20000000000002" font-size="8.8" font-weight="normal" text-anchor="end" fill="#2a2a2a">60</text>
<text x="432.6" y="166.20000000000002" font-size="8.8" font-weight="normal" text-anchor="end" fill="#2a2a2a">80</text>
<rect x="450.2" y="197.95" width="19.00" height="73.85" fill="#a4002c"/>
<g stroke="#a4002c" stroke-width="1.1"><line x1="459.70" y1="197.95" x2="459.70" y2="187.43"/><line x1="455.10" y1="187.43" x2="464.30" y2="187.43"/></g>
<line x1="459.70" y1="271.8" x2="459.70" y2="274.5" stroke="#2b2b2b" stroke-width="1.1"/>
<rect x="482.0" y="185.40" width="19.20" height="86.40" fill="#2f4e80"/>
<g stroke="#2f4e80" stroke-width="1.1"><line x1="491.60" y1="185.40" x2="491.60" y2="180.41"/><line x1="487.00" y1="180.41" x2="496.20" y2="180.41"/></g>
<line x1="491.60" y1="271.8" x2="491.60" y2="274.5" stroke="#2b2b2b" stroke-width="1.1"/>
<path d="M455.4,176.0 V172.6 H491.8 V176.0" stroke="#333" stroke-width="1.1" fill="none"/>
<text x="473.6" y="169.7" font-size="8.2" font-weight="normal" text-anchor="middle" fill="#222">n.s.</text>
<text x="459.6" y="285.6" font-size="8.8" font-weight="normal" text-anchor="middle" fill="#222" stroke="#222" stroke-width="0.35">+</text>
<rect x="490.70" y="282.1" width="1.8" height="1.3" fill="#333"/>
<text x="472.8" y="298.9" font-size="9.5" font-weight="normal" text-anchor="middle" fill="#111" textLength="33.4" lengthAdjust="spacingAndGlyphs" stroke="#111" stroke-width="0.3">αDC-SIGN</text>
<rect x="0.6" y="0.6" width="518.8" height="305.8" fill="none" stroke="#000" stroke-width="1.3"/>
</svg>
</body></html>
